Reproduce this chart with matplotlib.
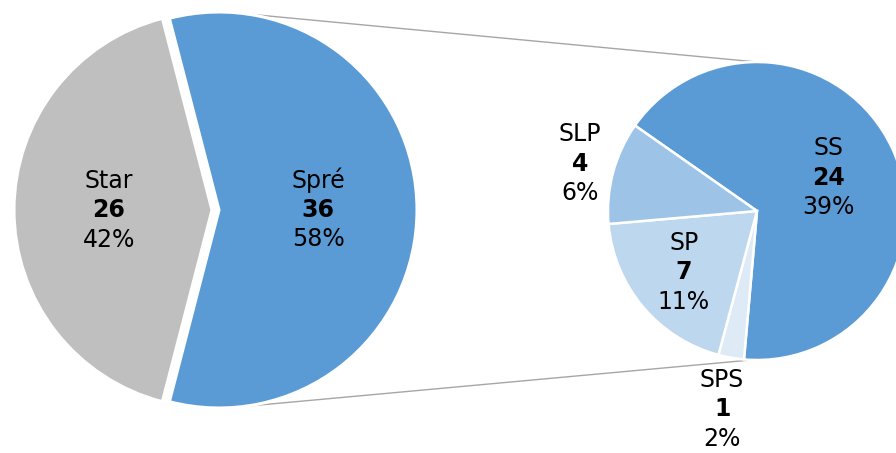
import numpy as np
import matplotlib
matplotlib.use("Agg")
import matplotlib.pyplot as plt

# main pie
main_labels = ["Spré", "Star"]
main_values = [36, 26]
main_colors = ["#5B9BD5", "#BFBFBF"]

# breakdown of Spré
sub_labels = ["SS", "SPS", "SP", "SLP"]
sub_values = [24, 1, 7, 4]
sub_colors = ["#5B9BD5", "#DEEBF7", "#BDD7EE", "#9DC3E6"]

total = sum(main_values)

W, H = 896, 453
fig = plt.figure(figsize=(W / 100, H / 100), dpi=100)
ax = fig.add_axes([0, 0, 1, 1])

left_c, left_r = (212, 243), 198
right_c, right_r = (757, 242), 149
explode_px = 7  # explode in pie() is in data units, which are pixels here

start = -main_values[0] / total * 180
wl, _ = ax.pie(main_values, colors=main_colors, startangle=start,
               center=left_c, radius=left_r,
               explode=[explode_px, 0],
               wedgeprops=dict(edgecolor="white", linewidth=2.2))

wr, _ = ax.pie(sub_values, colors=sub_colors, startangle=145,
               counterclock=False, center=right_c, radius=right_r,
               wedgeprops=dict(edgecolor="white", linewidth=1.8))

# pie() resets the limits, so set them afterwards
ax.set_xlim(0, W)
ax.set_ylim(0, H)
ax.set_aspect("equal")
ax.axis("off")

# connector lines between the exploded slice and the second pie
spre_c = wl[0].center
for a1, a2 in [(82, 90), (-83, -92)]:
    x1 = spre_c[0] + left_r * np.cos(np.radians(a1))
    y1 = spre_c[1] + left_r * np.sin(np.radians(a1))
    x2 = right_c[0] + right_r * np.cos(np.radians(a2))
    y2 = right_c[1] + right_r * np.sin(np.radians(a2))
    ax.plot([x1, x2], [y1, y2], color="#A6A6A6", lw=1.0, zorder=0)

LINE = 29.5
FS = 17


def put_label(wedge, name, value, dist):
    th = np.radians((wedge.theta1 + wedge.theta2) / 2)
    cx, cy = wedge.center
    x = cx + dist * wedge.r * np.cos(th)
    y = cy + dist * wedge.r * np.sin(th)
    pct = f"{value / total * 100:.0f}%"
    ax.text(x, y + LINE, name, ha="center", va="center", fontsize=FS)
    ax.text(x, y, str(value), ha="center", va="center", fontsize=FS,
            fontweight="bold")
    ax.text(x, y - LINE, pct, ha="center", va="center", fontsize=FS)


put_label(wl[0], main_labels[0], main_values[0], 0.5)
put_label(wl[1], main_labels[1], main_values[1], 0.52)

sub_dist = [0.53, 1.35, 0.64, 1.23]
for w, n, v, d in zip(wr, sub_labels, sub_values, sub_dist):
    put_label(w, n, v, d)

fig.savefig("out.png", dpi=100)
plt.close(fig)
